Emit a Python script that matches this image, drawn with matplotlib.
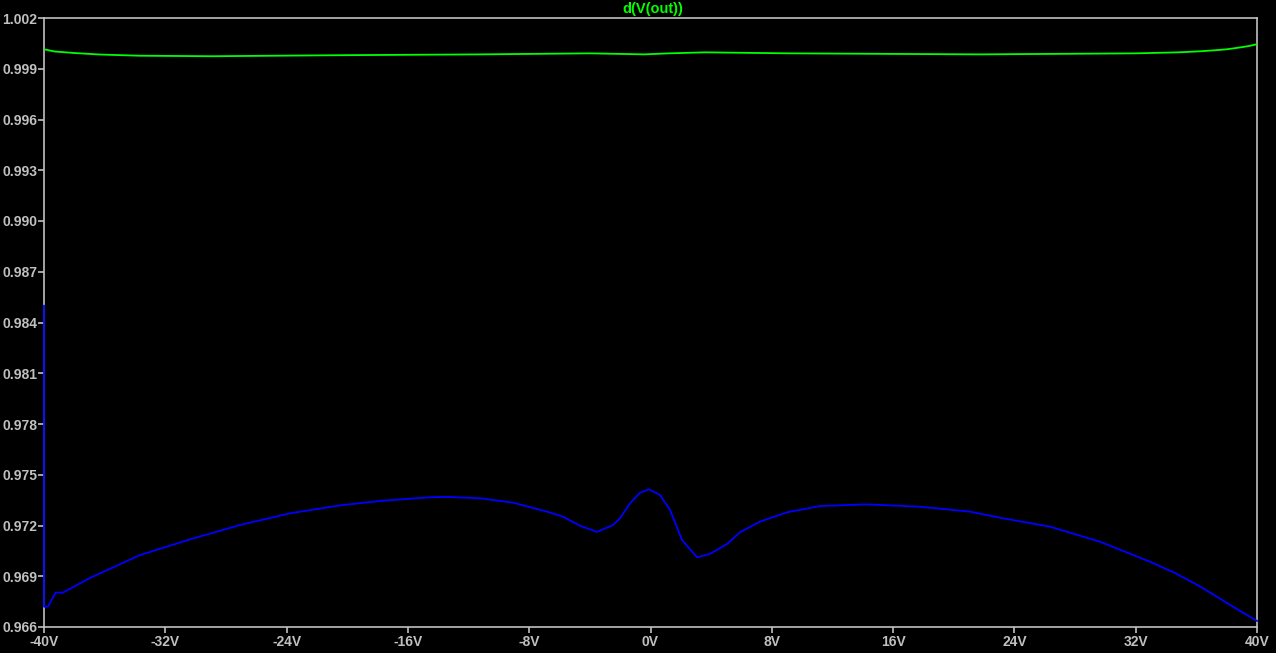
import matplotlib
matplotlib.use("Agg")
import matplotlib.pyplot as plt
from matplotlib.ticker import FixedLocator, FuncFormatter

# ---- data ----
green_x = [-40, -39.3, -38.0, -36.3, -33.7, -28.9, -20.6, -11.2, -4.0, -0.4, 1.2, 3.6,
           9.2, 21.7, 32.0, 34.8, 36.2, 37.2, 38.0, 38.5, 39.1, 39.5, 40]
green_y = [1.00015, 1.00002, 0.99993, 0.99984, 0.99977, 0.99974, 0.99980, 0.99985,
           0.99991, 0.99985, 0.99991, 0.99997, 0.99991, 0.99985, 0.99991, 0.99997,
           1.00003, 1.00009, 1.00015, 1.00021, 1.00029, 1.00035, 1.00045]

blue_x = [-40, -40, -39.74, -39.24, -38.75, -36.97, -33.67, -30.37, -27.07, -23.78,
          -20.48, -17.84, -14.54, -13.42, -11.24, -9.07, -6.83, -5.77, -4.65, -3.53,
          -2.47, -2.01, -1.35, -0.69, -0.10, 0.63, 1.29, 2.08, 3.07, 3.92, 5.05, 5.90,
          7.22, 9.00, 11.18, 14.28, 17.77, 21.07, 23.05, 26.35, 29.65, 32.94, 34.6,
          36.24, 38.42, 40]
blue_y = [0.98499, 0.96720, 0.96720, 0.96803, 0.96803, 0.96890, 0.97025, 0.97118,
          0.97203, 0.97272, 0.97319, 0.97345, 0.97367, 0.97369, 0.97361, 0.97335,
          0.97282, 0.97252, 0.97199, 0.97162, 0.97203, 0.97243, 0.97331, 0.97394,
          0.97414, 0.97380, 0.97292, 0.97114, 0.97012, 0.97032, 0.97091, 0.97160,
          0.97223, 0.97278, 0.97315, 0.97325, 0.97311, 0.97282, 0.97246, 0.97193,
          0.97104, 0.96986, 0.96919, 0.96840, 0.96720, 0.96636]

x_ticks = [-40, -32, -24, -16, -8, 0, 8, 16, 24, 32, 40]
y_ticks = [0.966, 0.969, 0.972, 0.975, 0.978, 0.981, 0.984, 0.987, 0.990, 0.993,
           0.996, 0.999, 1.002]
title = "d(V(out))"

# ---- plot ----
plt.rcParams["font.family"] = ["Liberation Sans", "DejaVu Sans"]

fig = plt.figure(figsize=(12.76, 6.53), dpi=100, facecolor="black")
ax = fig.add_axes([44 / 1276, 26 / 653, 1213 / 1276, 609 / 653], facecolor="black")

ax.plot(green_x, green_y, color="#00ff00", lw=1.3, zorder=3)
ax.plot(blue_x, blue_y, color="#0000ff", lw=1.3, zorder=3, clip_on=False)

ax.set_xlim(-40, 40)
ax.set_ylim(0.966, 1.002)
ax.xaxis.set_major_locator(FixedLocator(x_ticks))
ax.yaxis.set_major_locator(FixedLocator(y_ticks))
ax.xaxis.set_major_formatter(FuncFormatter(lambda v, p: f"{v:.0f}V"))
ax.yaxis.set_major_formatter(FuncFormatter(lambda v, p: f"{v:.3f}"))

gray = "#c0c0c0"
for s in ax.spines.values():
    s.set_color(gray)
    s.set_linewidth(1.2)
ax.tick_params(colors=gray, length=4.5, width=1.2, direction="out", pad=0.5,
               labelsize=10)
ax.tick_params(axis="x", pad=1.5)
for lbl in ax.get_xticklabels() + ax.get_yticklabels():
    lbl.set_fontweight("bold")

fig.text(653 / 1276, 1 - 9 / 653, title, color="#00ff00", ha="center", va="center",
         fontsize=10.5, fontweight="bold")

fig.savefig("out.png", dpi=100, facecolor="black")
